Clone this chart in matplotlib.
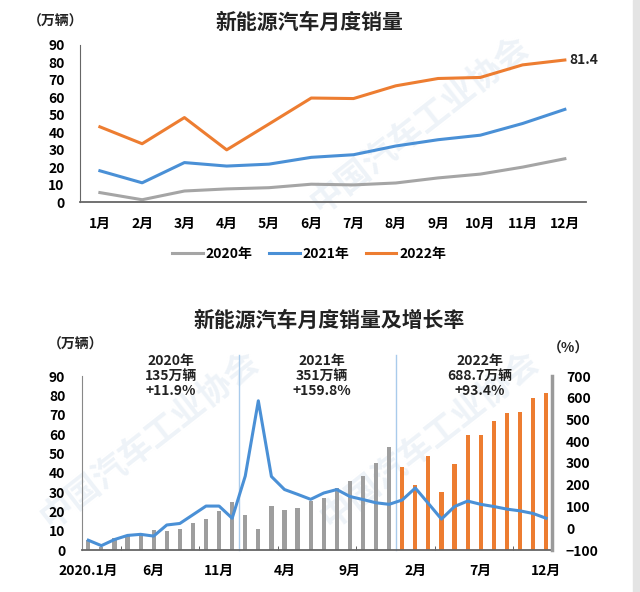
import matplotlib
matplotlib.use("Agg")
import matplotlib.pyplot as plt
import numpy as np

plt.rcParams['font.family'] = ['Noto Sans CJK SC', 'DejaVu Sans']
plt.rcParams['font.weight'] = 'bold'

months = ['1月', '2月', '3月', '4月', '5月', '6月', '7月', '8月', '9月', '10月', '11月', '12月']
sales_2020 = [5.4, 1.3, 6.3, 7.5, 8.2, 10.2, 9.8, 10.9, 13.8, 16.0, 20.0, 24.8]
sales_2021 = [17.9, 11.0, 22.6, 20.6, 21.7, 25.6, 27.1, 32.1, 35.7, 38.3, 45.0, 53.1]
sales_2022 = [43.1, 33.4, 48.4, 29.9, 44.7, 59.6, 59.3, 66.6, 70.8, 71.4, 78.6, 81.4]
growth = [-55, -80, -52, -33, -28, -36, 15, 22, 62, 102, 102, 46,
          240, 586, 238, 178, 156, 133, 162, 178, 146, 132, 117, 110,
          130, 185, 114, 42, 100, 125, 110, 100, 88, 80, 68, 46]
bottom_ticks = {0: '2020.1月', 5: '6月', 10: '11月', 15: '4月', 20: '9月',
                25: '2月', 30: '7月', 35: '12月'}
year_notes = ['2020年\n135万辆\n+11.9%', '2021年\n351万辆\n+159.8%', '2022年\n688.7万辆\n+93.4%']

GRAY = '#A5A5A5'
BAR_GRAY = '#9E9E9E'
BLUE = '#4A90D6'
ORANGE = '#ED7D31'
W, H = 640, 592

fig = plt.figure(figsize=(6.4, 5.92), dpi=100)

# faint watermark
wm = dict(color='#EEF3F8', fontsize=24, rotation=38, zorder=-5, ha='center', va='center')
fig.text(420 / W, 1 - 125 / H, '中国汽车工业协会', **wm)
fig.text(150 / W, 1 - 440 / H, '中国汽车工业协会', **wm)
fig.text(430 / W, 1 - 440 / H, '中国汽车工业协会', **wm)

# ---------------- top chart ----------------
ax1 = fig.add_axes([80 / W, 1 - 202 / H, 506 / W, 157 / H])
ax1.patch.set_alpha(0)
x = np.arange(12)
ax1.plot(x, sales_2020, color=GRAY, lw=2.2, label='2020年')
ax1.plot(x, sales_2021, color=BLUE, lw=2.2, label='2021年')
ax1.plot(x, sales_2022, color=ORANGE, lw=2.2, label='2022年')
ax1.annotate(f'{sales_2022[-1]}', (x[-1], sales_2022[-1]), xytext=(3, 0),
             textcoords='offset points', ha='left', va='center', fontsize=10,
             fontweight='bold', color='#222222')
ax1.set_xlim(-0.47, 11.5)
ax1.set_ylim(0, 90)
ax1.set_yticks(np.arange(0, 91, 10))
ax1.set_xticks(x)
ax1.set_xticklabels(months)
ax1.tick_params(axis='y', length=0, pad=11, labelsize=10)
ax1.tick_params(axis='x', length=0, pad=11, labelsize=10)
for s in ['top', 'right']:
    ax1.spines[s].set_visible(False)
ax1.spines['left'].set_color('#666666')
ax1.spines['bottom'].set_color('#666666')
ax1.spines['bottom'].set_linewidth(1.3)

fig.text(309 / W, 1 - 22 / H, '新能源汽车月度销量', ha='center', va='center',
         fontsize=15, fontweight='bold', color='#222222')
fig.text(56 / W, 1 - 22 / H, '（万辆）', ha='center', va='center', fontsize=10,
         fontweight='bold', color='#222222')
fig.legend(loc='center', bbox_to_anchor=(309 / W, 1 - 254 / H), ncol=3,
           frameon=False, fontsize=10, handlelength=2.2, handletextpad=0.2,
           columnspacing=1.2)

# ---------------- bottom chart ----------------
ax2 = fig.add_axes([82 / W, 1 - 550 / H, 470 / W, 174 / H])
ax2.patch.set_alpha(0)
idx = np.arange(36)
bars = sales_2020 + sales_2021 + sales_2022
colors = [BAR_GRAY] * 24 + [ORANGE] * 12
ax2.bar(idx, bars, width=0.32, color=colors, zorder=2)
ax2.set_xlim(-0.48, 35.45)
ax2.set_ylim(0, 90)
ax2.set_yticks(np.arange(0, 91, 10))
ax2.set_xticks(list(bottom_ticks.keys()))
ax2.set_xticklabels(list(bottom_ticks.values()))
ax2.set_xticks(np.arange(2.5, 36, 6), minor=True)
ax2.tick_params(axis='x', which='minor', direction='in', length=3, color='#444444')
ax2.tick_params(axis='y', length=0, pad=12, labelsize=10)
ax2.tick_params(axis='x', which='major', length=0, pad=10, labelsize=10)
ax2.spines['top'].set_visible(False)
ax2.spines['right'].set_visible(False)
ax2.spines['left'].set_color('#888888')
ax2.spines['bottom'].set_color('#666666')
ax2.spines['bottom'].set_linewidth(1.3)

for xs in [11.5, 23.5]:
    ax2.axvline(xs, ymin=0, ymax=1.12, color='#A9CBEB', lw=1, clip_on=False, zorder=1)

ax3 = ax2.twinx()
ax3.plot(idx, growth, color=BLUE, lw=2.2, zorder=3)
ax3.set_ylim(-100, 700)
ax3.set_yticks(np.arange(-100, 701, 100))
ax3.tick_params(axis='y', length=0, pad=10, labelsize=10)
for s in ['top', 'left', 'bottom']:
    ax3.spines[s].set_visible(False)
ax3.spines['right'].set_color('#9A9A9A')
ax3.spines['right'].set_linewidth(2.5)

fig.text(329 / W, 1 - 320 / H, '新能源汽车月度销量及增长率', ha='center', va='center',
         fontsize=15, fontweight='bold', color='#222222')
fig.text(76 / W, 1 - 345 / H, '（万辆）', ha='center', va='center', fontsize=10,
         fontweight='bold', color='#222222')
fig.text(568 / W, 1 - 349 / H, '（%）', ha='center', va='center', fontsize=10,
         fontweight='bold', color='#222222')
for note, cx in zip(year_notes, [171, 322, 480]):
    fig.text(cx / W, 1 - 376 / H, note, ha='center', va='center', fontsize=10,
             fontweight='bold', color='#222222', linespacing=1.05)

# gray strip at the right edge of the screenshot
fig.patches.append(plt.Rectangle((633 / W, 0), 7 / W, 1, transform=fig.transFigure,
                                 color='#E4E4E4', zorder=-10))

fig.savefig('out.png', dpi=100)
